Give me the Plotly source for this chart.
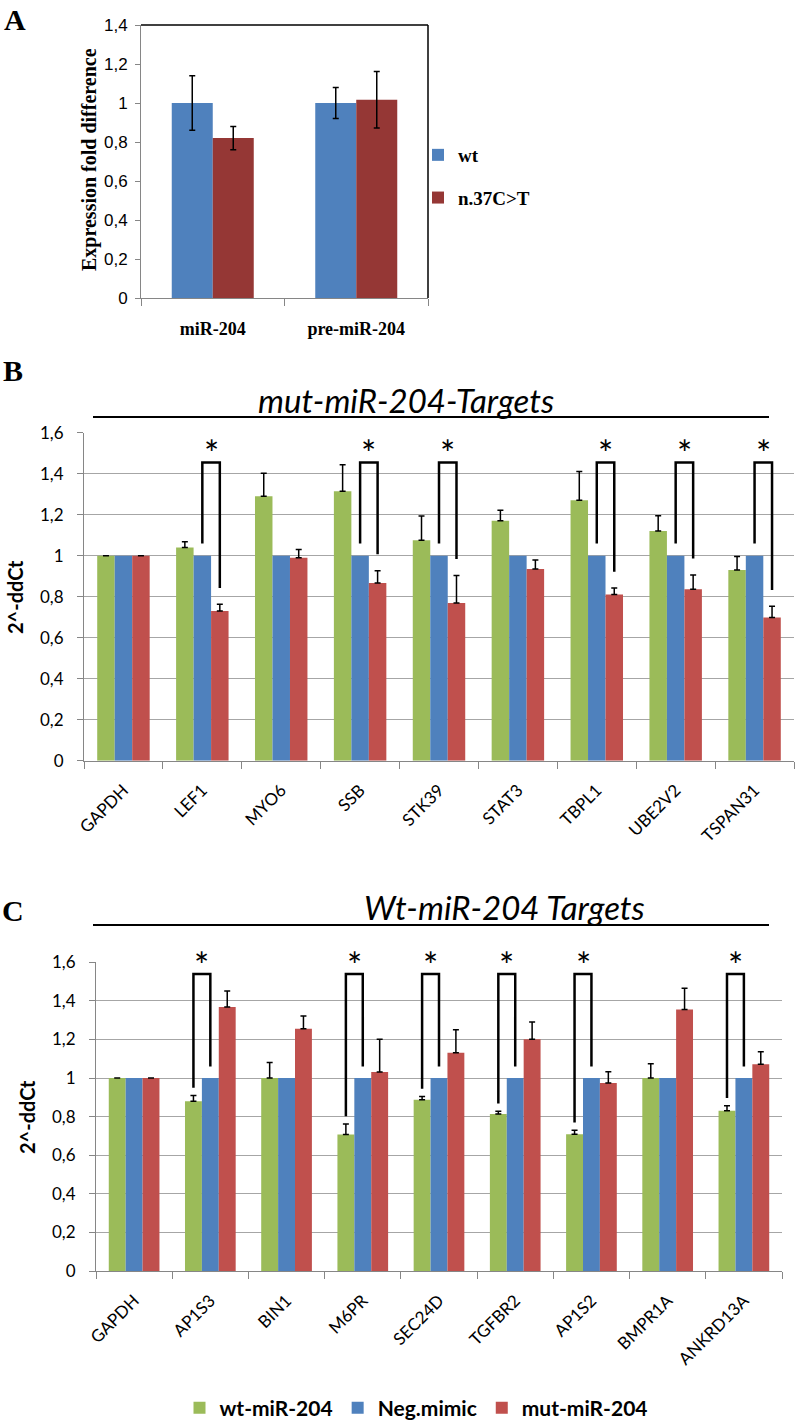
import plotly.graph_objects as go

W, H = 799, 1423

# ---------------- Panel A data ----------------
a_categories = ["miR-204", "pre-miR-204"]
a_series = ["wt", "n.37C>T"]
a_wt = [1.00, 1.00]
a_wt_err = [0.14, 0.08]
a_mut = [0.82, 1.017]
a_mut_err = [0.06, 0.145]
a_yticks = [0, 0.2, 0.4, 0.6, 0.8, 1.0, 1.2, 1.4]
a_yticklabels = ["0", "0,2", "0,4", "0,6", "0,8", "1", "1,2", "1,4"]

# ---------------- Panel B data ----------------
b_genes = ["GAPDH", "LEF1", "MYO6", "SSB", "STK39", "STAT3", "TBPL1", "UBE2V2", "TSPAN31"]
b_wt = [1.00, 1.04, 1.29, 1.315, 1.075, 1.17, 1.27, 1.12, 0.93]
b_wt_err = [0.0, 0.028, 0.112, 0.129, 0.119, 0.052, 0.141, 0.075, 0.066]
b_neg = [1.0, 1.0, 1.0, 1.0, 1.0, 1.0, 1.0, 1.0, 1.0]
b_mut = [1.00, 0.73, 0.99, 0.867, 0.769, 0.935, 0.811, 0.836, 0.699]
b_mut_err = [0.0, 0.033, 0.04, 0.06, 0.135, 0.044, 0.031, 0.07, 0.054]
b_sig = [False, True, False, True, True, False, True, True, True]

# ---------------- Panel C data ----------------
c_genes = ["GAPDH", "AP1S3", "BIN1", "M6PR", "SEC24D", "TGFBR2", "AP1S2", "BMPR1A", "ANKRD13A"]
c_wt = [1.00, 0.88, 1.00, 0.707, 0.888, 0.814, 0.709, 1.00, 0.831]
c_wt_err = [0.0, 0.03, 0.081, 0.055, 0.016, 0.014, 0.021, 0.074, 0.026]
c_neg = [1.0, 1.0, 1.0, 1.0, 1.0, 1.0, 1.0, 1.0, 1.0]
c_mut = [1.00, 1.368, 1.256, 1.031, 1.131, 1.201, 0.974, 1.355, 1.072]
c_mut_err = [0.0, 0.083, 0.066, 0.17, 0.119, 0.09, 0.059, 0.11, 0.064]
c_sig = [False, True, False, True, True, True, True, False, True]

bc_series = ["wt-miR-204", "Neg.mimic", "mut-miR-204"]
bc_yticks = [0, 0.2, 0.4, 0.6, 0.8, 1.0, 1.2, 1.4, 1.6]
bc_yticklabels = ["0", "0,2", "0,4", "0,6", "0,8", "1", "1,2", "1,4", "1,6"]

# ---------------- styles ----------------
BLUE = "#4F81BD"
DARKRED = "#953735"
GREEN = "#9BBB59"
RED = "#C0504D"
AXIS = "#868686"
GRID = "#A6A6A6"
SANS = "Lato, 'Open Sans', sans-serif"
SERIF = "'Liberation Serif', 'Times New Roman', serif"
NARROW = "'Liberation Sans Narrow', 'Liberation Sans', sans-serif"
YMAX_BC = 1.6


def px_x(x):
    return x / W


def px_y(y):
    return 1 - y / H


fig = go.Figure()

# ---------------- Panel A ----------------
A_BW = 0.2857
err_a = dict(type="data", color="black", thickness=1.5, width=3)
fig.add_trace(go.Bar(x=a_categories, y=a_wt, name=a_series[0], marker=dict(color=BLUE, line=dict(width=0)),
                     width=A_BW, offset=-A_BW, error_y=dict(array=a_wt_err, **err_a),
                     xaxis="x", yaxis="y", legend="legend", legendgroup="a1"))
fig.add_trace(go.Bar(x=a_categories, y=a_mut, name=a_series[1], marker=dict(color=DARKRED, line=dict(width=0)),
                     width=A_BW, offset=0, error_y=dict(array=a_mut_err, **err_a),
                     xaxis="x", yaxis="y", legend="legend", legendgroup="a2"))

# ---------------- Panels B and C ----------------
BARGAP = 0.335
BW = (1 - BARGAP) / 3
err_up = dict(type="data", symmetric=False, color="black", thickness=1.5, width=3)

annotations = []


def add_panel(genes, wt, wt_err, neg, mut, mut_err, sig, xa, ya, show_legend, mode):
    n = len(genes)
    xs = list(range(n))
    zeros = [0.0] * n
    fig.add_trace(go.Bar(x=xs, y=wt, name=bc_series[0], marker=dict(color=GREEN, line=dict(width=0)),
                         error_y=dict(array=wt_err, arrayminus=zeros, **err_up),
                         xaxis=xa, yaxis=ya, showlegend=show_legend, legend="legend2"))
    fig.add_trace(go.Bar(x=xs, y=neg, name=bc_series[1], marker=dict(color=BLUE, line=dict(width=0)),
                         xaxis=xa, yaxis=ya, showlegend=show_legend, legend="legend2"))
    fig.add_trace(go.Bar(x=xs, y=mut, name=bc_series[2], marker=dict(color=RED, line=dict(width=0)),
                         error_y=dict(array=mut_err, arrayminus=zeros, **err_up),
                         xaxis=xa, yaxis=ya, showlegend=show_legend, legend="legend2"))
    for i in range(n):
        if not sig[i]:
            continue
        if mode == "B":
            x_l, x_r = i, i + BW
            y_l = neg[i] + 0.06
            y_r = mut[i] + mut_err[i] + 0.08
            top, star = 1.455, 1.545
        else:
            x_l, x_r = i - BW, i
            y_l = wt[i] + wt_err[i] + 0.04
            y_r = neg[i] + 0.06
            top, star = 1.54, 1.635
        fig.add_trace(go.Scatter(x=[x_l, x_l, x_r, x_r], y=[y_l, top, top, y_r], mode="lines",
                                 line=dict(color="black", width=2.5), cliponaxis=False,
                                 xaxis=xa, yaxis=ya, showlegend=False, hoverinfo="skip"))
        annotations.append(dict(x=(x_l + x_r) / 2, y=star / YMAX_BC, xref=xa, yref=ya + " domain", text="*",
                                showarrow=False, font=dict(family=SANS, size=36, color="black"),
                                yanchor="middle", yshift=-9))


add_panel(b_genes, b_wt, b_wt_err, b_neg, b_mut, b_mut_err, b_sig, "x2", "y2", False, "B")
add_panel(c_genes, c_wt, c_wt_err, c_neg, c_mut, c_mut_err, c_sig, "x3", "y3", True, "C")

# ---------------- text annotations ----------------
annotations += [
    dict(x=px_x(2), y=px_y(1), xref="paper", yref="paper", text="<b>A</b>", showarrow=False,
         xanchor="left", yanchor="top", font=dict(family=SERIF, size=30, color="black")),
    dict(x=px_x(1), y=px_y(352), xref="paper", yref="paper", text="<b>B</b>", showarrow=False,
         xanchor="left", yanchor="top", font=dict(family=SERIF, size=30, color="black")),
    dict(x=px_x(0), y=px_y(892), xref="paper", yref="paper", text="<b>C</b>", showarrow=False,
         xanchor="left", yanchor="top", font=dict(family=SERIF, size=30, color="black")),
    dict(x=px_x(90), y=px_y(160), xref="paper", yref="paper", text="<b>Expression fold difference</b>",
         showarrow=False, textangle=-90, xanchor="center", yanchor="middle",
         font=dict(family=SERIF, size=20, color="black")),
    dict(x=px_x(15), y=px_y(597), xref="paper", yref="paper", text="<b>2^-ddCt</b>", showarrow=False,
         textangle=-90, xanchor="center", yanchor="middle", font=dict(family=SANS, size=20, color="black")),
    dict(x=px_x(27), y=px_y(1117), xref="paper", yref="paper", text="<b>2^-ddCt</b>", showarrow=False,
         textangle=-90, xanchor="center", yanchor="middle", font=dict(family=SANS, size=20, color="black")),
    dict(x=px_x(406), y=px_y(400), xref="paper", yref="paper", text="<i>mut-miR-204-Targets</i>",
         showarrow=False, xanchor="center", yanchor="middle", font=dict(family=SANS, size=33, color="black")),
    dict(x=px_x(504), y=px_y(907), xref="paper", yref="paper", text="<i>Wt-miR-204 Targets</i>",
         showarrow=False, xanchor="center", yanchor="middle", font=dict(family=SANS, size=33, color="black")),
]

shapes = [
    # panel A frame (top and right)
    dict(type="line", xref="x domain", yref="y domain", x0=0, x1=1, y0=1, y1=1,
         line=dict(color="black", width=1.5)),
    dict(type="line", xref="x domain", yref="y domain", x0=1, x1=1, y0=0, y1=1,
         line=dict(color="black", width=1.5)),
    # title underlines
    dict(type="line", xref="paper", yref="paper", x0=px_x(93), x1=px_x(769), y0=px_y(417), y1=px_y(417),
         line=dict(color="black", width=1.8)),
    dict(type="line", xref="paper", yref="paper", x0=px_x(93), x1=px_x(769), y0=px_y(925), y1=px_y(925),
         line=dict(color="black", width=1.8)),
]


def bc_xaxis(domain, genes, anchor):
    n = len(genes)
    return dict(domain=domain, anchor=anchor, range=[-0.5, n - 0.5], tickmode="array",
                tickvals=list(range(n)), ticktext=genes, tickangle=-45, ticks="",
                ticklabelstandoff=12, tickfont=dict(family=SANS, size=17, color="black"),
                showline=True, linecolor=AXIS, linewidth=1, showgrid=False, zeroline=False,
                minor=dict(tickmode="array", tickvals=[i - 0.5 for i in range(n + 1)], ticks="outside",
                           ticklen=7, tickcolor=AXIS, showgrid=False))


def bc_yaxis(domain, anchor):
    return dict(domain=domain, anchor=anchor, range=[0, YMAX_BC], tickmode="array", tickvals=bc_yticks,
                ticktext=bc_yticklabels, ticks="outside", ticklen=6, tickcolor=AXIS,
                ticklabelstandoff=10, tickfont=dict(family=SANS, size=17, color="black"),
                showline=True, linecolor=AXIS, showgrid=True, gridcolor=GRID, gridwidth=1, zeroline=False)


fig.update_layout(
    width=W, height=H, margin=dict(l=0, r=0, t=0, b=0, autoexpand=False),
    paper_bgcolor="white", plot_bgcolor="white",
    barmode="group", bargap=BARGAP, bargroupgap=0,
    xaxis=dict(domain=[px_x(141), px_x(428)], anchor="y", type="category", ticks="outside",
               tickson="boundaries", ticklen=7, tickcolor=AXIS, showline=True, linecolor=AXIS,
               showgrid=False, ticklabelstandoff=14,
               tickfont=dict(family=SERIF, size=18, color="black", weight="bold")),
    yaxis=dict(domain=[px_y(298), px_y(25)], anchor="x", range=[0, 1.4], tickmode="array",
               tickvals=a_yticks, ticktext=a_yticklabels, ticks="outside", ticklen=5, tickcolor=AXIS,
               showline=True, linecolor=AXIS, showgrid=False, zeroline=False, ticklabelstandoff=4,
               tickfont=dict(family=NARROW, size=17, color="black")),
    xaxis2=bc_xaxis([px_x(84), px_x(794)], b_genes, "y2"),
    yaxis2=bc_yaxis([px_y(760.7), px_y(432.7)], "x2"),
    xaxis3=bc_xaxis([px_x(96), px_x(782)], c_genes, "y3"),
    yaxis3=bc_yaxis([px_y(1271), px_y(962.3)], "x3"),
    legend=dict(x=px_x(418), y=px_y(136), xanchor="left", yanchor="top", bgcolor="rgba(0,0,0,0)",
                tracegroupgap=15, font=dict(family=SERIF, size=19, color="black", weight="bold")),
    legend2=dict(orientation="h", x=px_x(416), y=px_y(1408), xanchor="center", yanchor="middle",
                 bgcolor="rgba(0,0,0,0)", font=dict(family=SANS, size=21, color="black", weight="bold")),
    annotations=annotations,
    shapes=shapes,
    showlegend=True,
)

fig.write_html("out.html", config={"displayModeBar": False},
               post_script="document.body.style.margin='0';")
